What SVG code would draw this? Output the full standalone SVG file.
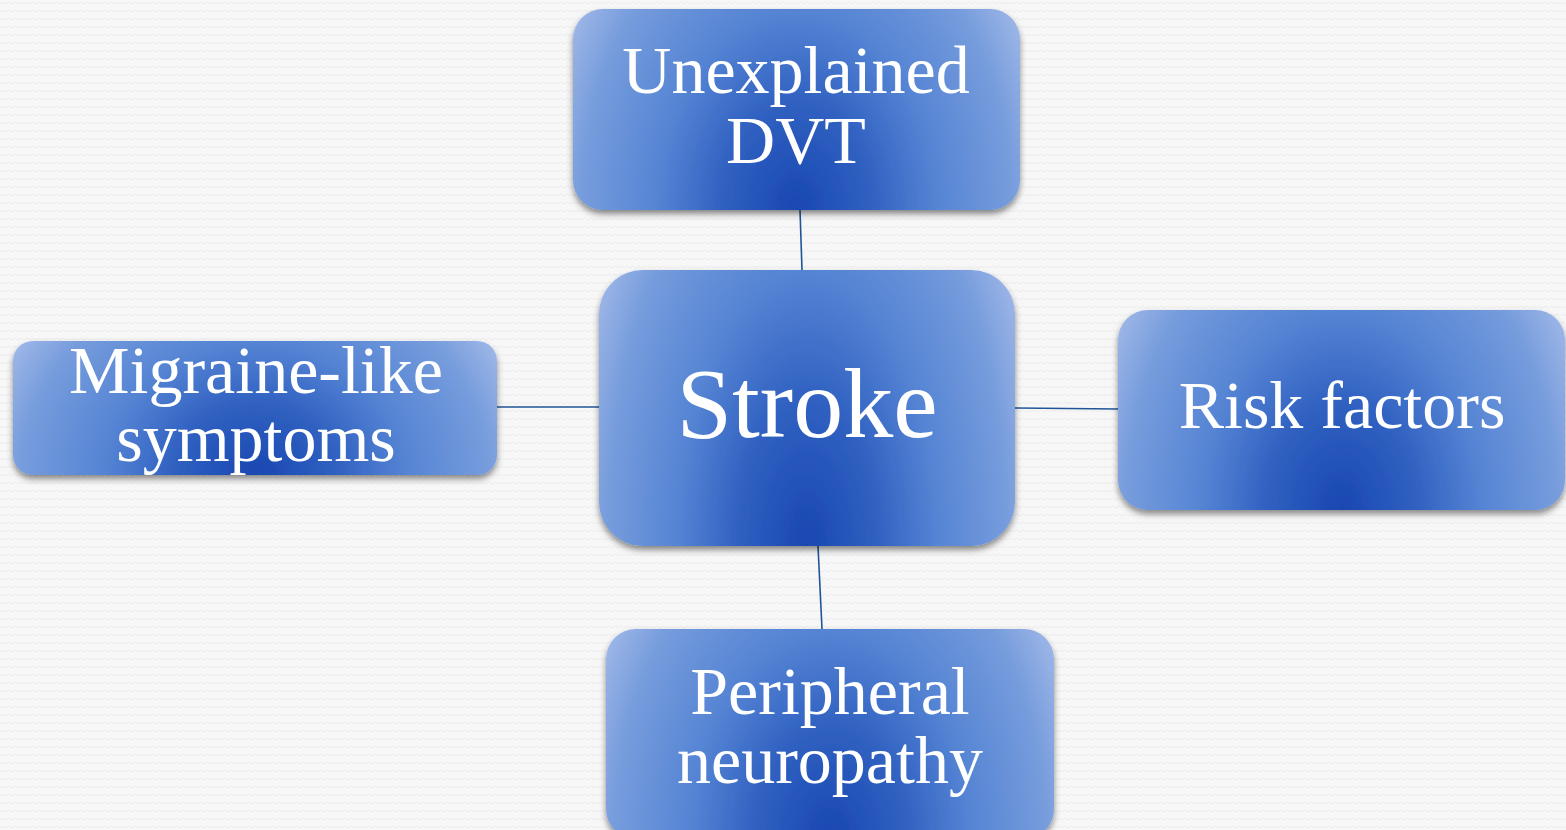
<svg xmlns="http://www.w3.org/2000/svg" width="1566" height="830" viewBox="0 0 1566 830">
<style>
.box{fill:url(#g);filter:url(#sh)}
.t{font-family:"Liberation Serif","DejaVu Serif",serif;fill:#ffffff;text-anchor:middle;font-size:68px}
.c{stroke:#1f5597;stroke-width:1.6;fill:none}
</style>
<defs>
<radialGradient id="g" cx="0.5" cy="1" r="1" gradientTransform="translate(0.5,1) scale(0.6,1.9) translate(-0.5,-1)">
<stop offset="0" stop-color="#1947b1"/>
<stop offset="0.28" stop-color="#3061c1"/>
<stop offset="0.52" stop-color="#5584d4"/>
<stop offset="0.8" stop-color="#769cdc"/>
<stop offset="1" stop-color="#a6bcea"/>
</radialGradient>
<filter id="sh" x="-10%" y="-10%" width="120%" height="130%">
<feDropShadow dx="0" dy="4" stdDeviation="3" flood-color="#000" flood-opacity="0.45"/>
</filter>
<pattern id="bg" width="12" height="8" patternUnits="userSpaceOnUse">
<rect width="12" height="8" fill="#f7f7f7"/>
<polyline points="0,4 3,2 6,4 9,2 12,4" fill="none" stroke="#ececec" stroke-width="1"/>
</pattern>
</defs>
<rect width="1566" height="830" fill="url(#bg)"/>
<g id="connectors">
<line class="c" x1="800" y1="210" x2="802" y2="270"/>
<line class="c" x1="818" y1="546" x2="822" y2="629"/>
<line class="c" x1="497" y1="407" x2="599" y2="407"/>
<line class="c" x1="1015" y1="408" x2="1118" y2="409"/>
</g>
<g id="node-dvt">
<rect class="box" x="573" y="9" width="447" height="201" rx="30"/>
<text class="t" x="796" y="93">Unexplained</text>
<text class="t" x="796" y="163">DVT</text>
</g>
<g id="node-stroke">
<rect class="box" x="599" y="270" width="416" height="276" rx="44"/>
<text class="t" x="807" y="437" style="font-size:100px">Stroke</text>
</g>
<g id="node-migraine">
<rect class="box" x="13" y="341" width="484" height="134" rx="20"/>
<text class="t" x="256" y="393">Migraine-like</text>
<text class="t" x="256" y="461">symptoms</text>
</g>
<g id="node-risk">
<rect class="box" x="1118" y="310" width="447" height="200" rx="30"/>
<text class="t" x="1342" y="428">Risk factors</text>
</g>
<g id="node-neuropathy">
<rect class="box" x="606" y="629" width="448" height="210" rx="30"/>
<text class="t" x="830" y="714">Peripheral</text>
<text class="t" x="830" y="783">neuropathy</text>
</g>
</svg>
